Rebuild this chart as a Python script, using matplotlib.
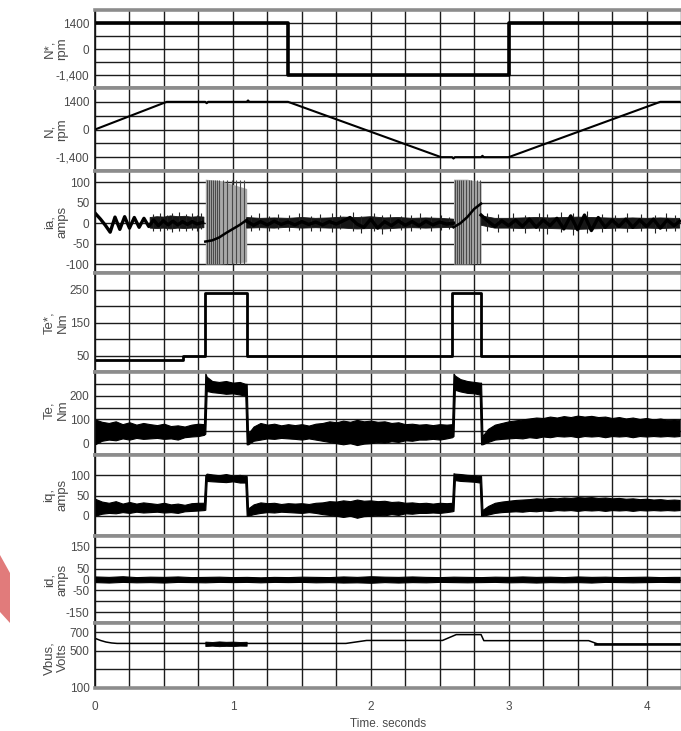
import numpy as np
import matplotlib
matplotlib.use('Agg')
import matplotlib.pyplot as plt
from matplotlib.patches import Polygon

nan = float('nan')

# ---------------- data ----------------
nstar_t = [0.0, 1.40, 3.00, 4.24]
nstar_v = [1400, -1400, 1400, 1400]

n_t = [0.0, 0.52, 0.80, 0.81, 0.82, 1.10, 1.11, 1.12, 1.40, 2.51, 2.59, 2.60, 2.61,
       2.80, 2.81, 2.82, 3.00, 4.10, 4.24]
n_v = [0, 1400, 1400, 1330, 1400, 1400, 1470, 1400, 1400, -1400, -1400, -1470, -1400,
       -1400, -1330, -1400, -1400, 1400, 1400]

# ia: slow trace + dense-noise envelope + spikes + switching bursts
ia_t = [0.00, 0.04, 0.075, 0.11, 0.145, 0.18, 0.215, 0.25, 0.285, 0.32, 0.355, 0.39, 0.425,
        0.46, 0.495, 0.53, 0.565, 0.60, 0.635, 0.67, 0.705, 0.74, 0.78, 0.795,
        1.10, 1.15, 1.20, 1.25, 1.30, 1.35, 1.40, 1.45, 1.50, 1.55, 1.60, 1.65, 1.70, 1.75,
        1.80, 1.85, 1.90, 1.95, 2.00, 2.05, 2.10, 2.15, 2.20, 2.25, 2.30, 2.35, 2.40, 2.45,
        2.50, 2.55, 2.60, 2.65,
        2.80, 2.85, 2.90, 2.95, 3.00, 3.05, 3.10, 3.15, 3.20, 3.25, 3.30, 3.35, 3.40, 3.45,
        3.50, 3.55, 3.60, 3.65, 3.70, 3.75, 3.80, 3.85, 3.90, 3.95, 4.00, 4.05, 4.10, 4.15,
        4.20, 4.24]
ia_v = [25, 10, -5, -22, 15, -15, 16, -12, 14, -10, 12, -8, 8,
        -6, 6, -4, 5, -4, 4, -3, 4, -2, 2, nan,
        5, -5, 4, -4, 5, -3, 3, -4, 4, -3, 3, -4, 4, -2,
        6, 14, -2, -10, 10, -12, 4, -6, 6, -5, 4, -6, 5, -4,
        3, -2, 0, nan,
        20, 5, -8, 6, -6, 8, -8, 10, -10, 8, -6, 12, -14, 18,
        -16, 20, -18, 14, -10, 8, -8, 10, -10, 8, -8, 10, -12, 8,
        -6, 5]

ia_band_t = [0.40, 0.45, 0.50, 0.55, 0.60, 0.65, 0.70, 0.75, 0.79, 0.795,
             1.10, 1.20, 1.30, 1.40, 1.50, 1.60, 1.70, 1.80, 1.90, 2.00, 2.10, 2.20, 2.30,
             2.40, 2.50, 2.60, 2.65,
             2.80, 2.90, 3.00, 3.10, 3.20, 3.30, 3.40, 3.50, 3.60, 3.70, 3.80, 3.90, 4.00,
             4.10, 4.20, 4.24]
ia_band_hi = [14, 16, 15, 18, 16, 17, 15, 16, 15, nan,
              14, 12, 13, 12, 14, 12, 13, 15, 14, 16, 13, 14, 12,
              13, 12, 10, nan,
              18, 12, 12, 13, 14, 13, 14, 15, 14, 13, 12, 13, 12,
              13, 12, 12]
ia_band_lo = [-12, -13, -12, -14, -12, -13, -12, -12, -11, nan,
              -12, -11, -12, -10, -12, -11, -12, -12, -14, -13, -14, -12, -11,
              -12, -11, -10, nan,
              -5, -12, -12, -13, -12, -13, -14, -15, -14, -13, -12, -13, -12,
              -13, -12, -12]

ia_spike_t = [0.42, 0.47, 0.52, 0.56, 0.61, 0.66, 0.70, 0.74, 0.77,
              1.13, 1.19, 1.26, 1.33, 1.41, 1.48, 1.57, 1.63, 1.72, 1.78, 1.87, 1.93, 2.02,
              2.08, 2.14, 2.22, 2.29, 2.36, 2.44, 2.51, 2.57,
              2.84, 2.92, 3.03, 3.12, 3.22, 3.28, 3.38, 3.47, 3.57, 3.68, 3.77, 3.86, 3.96,
              4.06, 4.14, 4.21]
ia_spike_hi = [22, 26, 20, 25, 28, 22, 24, 20, 25,
               20, 24, 18, 22, 20, 25, 18, 22, 26, 20, 28, 18, 24, 20, 22, 18, 20, 24, 18,
               20, 16,
               26, 22, 24, 20, 26, 22, 28, 24, 30, 22, 20, 24, 22, 20, 24, 20]
ia_spike_lo = [-18, -20, -16, -22, -18, -20, -16, -18, -15,
               -18, -16, -20, -15, -18, -16, -20, -18, -22, -15, -20, -25, -18, -26, -20,
               -16, -18, -15, -18, -16, -14,
               -20, -22, -18, -24, -20, -26, -22, -28, -24, -22, -20, -22, -20, -24, -20,
               -18]

burst1_t = [0.80, 0.90, 1.00, 1.10]
burst1_hi = [108, 105, 95, 85]
burst1_lo = [-100, -100, -98, -95]
burst1_lines = [0.81, 0.825, 0.84, 0.855, 0.87, 0.885, 0.90, 0.93, 0.96, 0.99, 1.02, 1.05, 1.08]
burst1_curve_t = [0.80, 0.85, 0.90, 0.95, 1.00, 1.05, 1.10]
burst1_curve_v = [-45, -42, -35, -24, -14, -4, 8]

burst2_t = [2.60, 2.70, 2.80]
burst2_hi = [108, 108, 100]
burst2_lo = [-100, -100, -98]
burst2_lines = [2.61, 2.625, 2.64, 2.655, 2.67, 2.69, 2.71, 2.73, 2.75, 2.77, 2.79]
burst2_curve_t = [2.60, 2.65, 2.70, 2.75, 2.80]
burst2_curve_v = [-10, 0, 15, 35, 48]

testar_t = [0.0, 0.64, 0.80, 1.10, 2.59, 2.80, 4.24]
testar_v = [37, 48, 238, 50, 238, 50, 50]

drive_t = [0.00, 0.05, 0.10, 0.15, 0.20, 0.25, 0.30, 0.35, 0.40, 0.45, 0.50, 0.55, 0.60, 0.65,
           0.70, 0.75, 0.79,
           0.80, 0.81, 0.85, 0.90, 0.95, 1.00, 1.05, 1.09,
           1.10, 1.11, 1.15, 1.20, 1.25, 1.30, 1.35, 1.40, 1.45, 1.50, 1.55, 1.60, 1.65, 1.70,
           1.75, 1.80, 1.85, 1.90, 1.95, 2.00, 2.05, 2.10, 2.15, 2.20, 2.25, 2.30, 2.35, 2.40,
           2.45, 2.50, 2.55, 2.59,
           2.60, 2.61, 2.65, 2.70, 2.75, 2.79,
           2.80, 2.81, 2.85, 2.90, 2.95, 3.00, 3.05, 3.10, 3.15, 3.20, 3.25, 3.30, 3.35, 3.40,
           3.45, 3.50, 3.55, 3.60, 3.65, 3.70, 3.75, 3.80, 3.85, 3.90, 3.95, 4.00, 4.05, 4.10,
           4.15, 4.20, 4.24]

te_hi = [100, 90, 85, 92, 80, 88, 78, 85, 80, 76, 82, 72, 75, 70, 78, 82, 80,
         295, 280, 262, 258, 262, 255, 258, 250,
         250, 40, 70, 85, 78, 82, 75, 80, 76, 80, 74, 82, 85, 92, 88, 95, 90, 98, 92, 95,
         90, 92, 85, 88, 80, 82, 78, 80, 76, 80, 78, 80,
         295, 285, 270, 262, 258, 255,
         255, 30, 60, 78, 85, 92, 96, 100, 104, 108, 106, 112, 108, 114, 110, 116, 112, 115,
         110, 112, 106, 110, 104, 108, 102, 106, 100, 104, 98, 100, 98]
te_lo = [-5, 10, 15, 12, 20, 15, 22, 18, 20, 22, 18, 20, 15, 25, 28, 30, 35,
         40, 220, 215, 212, 208, 210, 205, 200,
         -5, -5, 10, 15, 20, 18, 22, 20, 18, 15, 20, 15, 10, 5, 0, -5, 0, -8, -2, 0,
         5, 2, 8, 5, 12, 10, 15, 15, 18, 15, 20, 25,
         30, 225, 218, 212, 210, 205,
         -5, -5, 5, 15, 18, 20, 22, 20, 25, 22, 28, 25, 30, 28, 30, 25, 30, 28,
         30, 25, 30, 28, 30, 25, 30, 28, 30, 28, 30, 28, 30]

iq_hi = [42, 35, 32, 36, 30, 34, 30, 33, 31, 29, 32, 28, 30, 27, 31, 32, 32,
         100, 104, 102, 100, 103, 99, 101, 98,
         98, 18, 28, 33, 31, 32, 29, 31, 30, 31, 29, 32, 33, 36, 35, 38, 36, 40, 37, 38,
         36, 37, 34, 35, 32, 33, 31, 32, 30, 32, 31, 32,
         105, 104, 103, 101, 100, 98,
         98, 14, 24, 32, 35, 37, 39, 40, 41, 43, 42, 44, 43, 45, 44, 46, 45, 46,
         44, 45, 43, 44, 42, 43, 41, 42, 40, 41, 39, 40, 39]
iq_lo = [0, 5, 7, 6, 9, 7, 10, 8, 9, 10, 8, 9, 7, 11, 12, 13, 14,
         15, 86, 85, 84, 83, 85, 82, 82,
         0, 0, 4, 7, 9, 8, 10, 9, 8, 7, 9, 7, 4, 2, 0, -3, 0, -5, -1, 0,
         2, 1, 4, 2, 6, 5, 7, 7, 8, 7, 9, 11,
         12, 88, 86, 85, 84, 82,
         0, 0, 3, 7, 9, 10, 11, 10, 12, 11, 13, 12, 14, 13, 14, 12, 14, 13,
         14, 12, 14, 13, 14, 12, 14, 13, 14, 13, 14, 13, 14]

id_t = [0.0, 0.1, 0.2, 0.3, 0.4, 0.5, 0.6, 0.7, 0.8, 0.9, 1.0, 1.1, 1.2, 1.3, 1.4, 1.5, 1.6,
        1.7, 1.8, 1.9, 2.0, 2.1, 2.2, 2.3, 2.4, 2.5, 2.6, 2.7, 2.8, 2.9, 3.0, 3.1, 3.2, 3.3,
        3.4, 3.5, 3.6, 3.7, 3.8, 3.9, 4.0, 4.1, 4.2, 4.24]
id_hi = [14, 12, 15, 11, 13, 12, 14, 11, 12, 13, 11, 12, 10, 12, 11, 13, 12,
         11, 14, 12, 15, 13, 12, 14, 12, 11, 13, 12, 11, 13, 12, 14, 12, 13,
         11, 14, 12, 13, 11, 12, 13, 11, 12, 12]
id_lo = [-12, -14, -11, -13, -12, -14, -11, -12, -13, -11, -12, -11, -13, -11, -12, -11, -13,
         -12, -14, -13, -15, -12, -14, -12, -13, -11, -12, -13, -12, -11, -13, -12, -14, -12,
         -13, -12, -14, -11, -12, -13, -12, -11, -12, -12]

vb_t = [0.00, 0.04, 0.08, 0.12, 0.16, 1.82, 1.97, 2.52, 2.62, 2.80, 2.82, 3.58, 3.65, 4.24]
vb_v = [635, 612, 595, 585, 580, 580, 612, 612, 675, 675, 610, 610, 572, 572]
vb_band1_t = [0.80, 0.85, 0.90, 0.95, 1.00, 1.05, 1.10]
vb_band1_hi = [600, 596, 602, 598, 600, 596, 598]
vb_band1_lo = [552, 556, 550, 554, 552, 556, 555]
vb_band2_t = [3.62, 4.24]
vb_band2_hi = [584, 584]
vb_band2_lo = [562, 562]

# panel labels, tick labels, grid values
panel_names = ['N*,\nrpm', 'N,\nrpm', 'ia,\namps', 'Te*,\nNm', 'Te,\nNm', 'iq,\namps',
               'id,\namps', 'Vbus,\nVolts']
panel_ylims = [(-2100, 2100), (-2100, 2100), (-122, 128), (0, 300), (-50, 300), (-50, 150),
               (-200, 200), (100, 800)]
panel_ticks = [[-1400, 0, 1400], [-1400, 0, 1400], [-100, -50, 0, 50, 100], [50, 150, 250],
               [0, 100, 200], [0, 50, 100], [-150, -50, 0, 50, 150], [100, 500, 700]]
panel_ticklabels = [['-1,400', '0', '1400'], ['-1,400', '0', '1400'],
                    ['-100', '-50', '0', '50', '100'], ['50', '150', '250'],
                    ['0', '100', '200'], ['0', '50', '100'],
                    ['-150', '-50', '0', '50', '150'], ['100', '500', '700']]
panel_minor = [[-700, 700], [-700, 700], [], [100, 200], [50, 150, 250], [], [-100, 100], [300]]
x_ticks = [0, 1, 2, 3, 4]

# ---------------- layout ----------------
W, H = 681, 731
fig = plt.figure(figsize=(W / 100, H / 100), dpi=100)
plt.rcParams['font.family'] = ['Liberation Sans', 'DejaVu Sans']

bounds = [(10, 88), (88, 171), (171, 273), (273, 372), (372, 455), (455, 536), (536, 623),
          (623, 688)]
X0, X1 = 95, 681
label_cy = [49, 130, 222, 323, 410, 495, 580, 658]
TXT = '#4a4a4a'

axes = []
for i, (top, bot) in enumerate(bounds):
    ax = fig.add_axes([X0 / W, 1 - bot / H, (X1 - X0) / W, (bot - top) / H])
    ax.set_xlim(0, (X1 - X0) / 138.25)
    ax.set_ylim(*panel_ylims[i])
    ax.set_yticks(panel_ticks[i])
    ax.set_yticklabels(panel_ticklabels[i])
    ax.set_yticks(panel_minor[i], minor=True)
    ax.set_xticks(x_ticks)
    ax.set_xticks(np.arange(0, 4.26, 0.25), minor=True)
    ax.grid(True, which='both', color='#1c1c1c', lw=1.0)
    ax.set_axisbelow(True)
    ax.tick_params(which='both', length=0, labelsize=8.5, labelcolor=TXT, pad=4)
    if i < len(bounds) - 1:
        ax.tick_params(labelbottom=False)
    for s in ('top', 'bottom'):
        ax.spines[s].set_color('#8c8c8c')
        ax.spines[s].set_linewidth(2.6)
    ax.spines['left'].set_color('#111111')
    ax.spines['left'].set_linewidth(1.2)
    ax.spines['right'].set_visible(False)
    fig.text(56 / W, 1 - label_cy[i] / H, panel_names[i], rotation=90, ha='center',
             va='center', fontsize=9.5, color=TXT, linespacing=1.1, multialignment='center')
    axes.append(ax)

a_ns, a_n, a_ia, a_tes, a_te, a_iq, a_id, a_vb = axes

a_ns.plot(nstar_t, nstar_v, drawstyle='steps-post', color='black', lw=2.6)
a_n.plot(n_t, n_v, color='black', lw=1.5)

a_ia.fill_between(burst1_t, burst1_lo, burst1_hi, color='#a8a8a8', lw=0)
a_ia.fill_between(burst2_t, burst2_lo, burst2_hi, color='#a8a8a8', lw=0)
a_ia.vlines(burst1_lines, -100, 105, color='#4a4a4a', lw=0.8)
a_ia.vlines(burst2_lines, -100, 105, color='#4a4a4a', lw=0.8)
a_ia.plot(burst1_curve_t, burst1_curve_v, color='black', lw=1.8)
a_ia.plot(burst2_curve_t, burst2_curve_v, color='black', lw=1.8)
a_ia.vlines(ia_spike_t, ia_spike_lo, ia_spike_hi, color='#222222', lw=0.8)
a_ia.fill_between(ia_band_t, ia_band_lo, ia_band_hi, color='#161616', lw=0.6)
a_ia.plot(ia_t, ia_v, color='black', lw=2.4)

a_tes.plot(testar_t, testar_v, drawstyle='steps-post', color='black', lw=2.0)

a_te.fill_between(drive_t, te_lo, te_hi, color='black', lw=0.8)
a_iq.fill_between(drive_t, iq_lo, iq_hi, color='black', lw=0.8)
a_id.fill_between(id_t, id_lo, id_hi, color='black', lw=0.8)

a_vb.plot(vb_t, vb_v, color='black', lw=1.1)
a_vb.fill_between(vb_band1_t, vb_band1_lo, vb_band1_hi, color='black', lw=0.6)
a_vb.fill_between(vb_band2_t, vb_band2_lo, vb_band2_hi, color='black', lw=0.4)

a_vb.tick_params(axis='x', pad=9)
a_vb.set_xlabel('Time. seconds', fontsize=8.5, color=TXT, labelpad=4)

# pink scan artefact at the left edge
pts = [(0, 555), (10, 573), (10, 623), (0, 612)]
fig.patches.append(Polygon([(x / W, 1 - y / H) for x, y in pts], closed=True,
                           transform=fig.transFigure, facecolor='#e17b7b', edgecolor='none'))

fig.savefig('out.png', dpi=100)
